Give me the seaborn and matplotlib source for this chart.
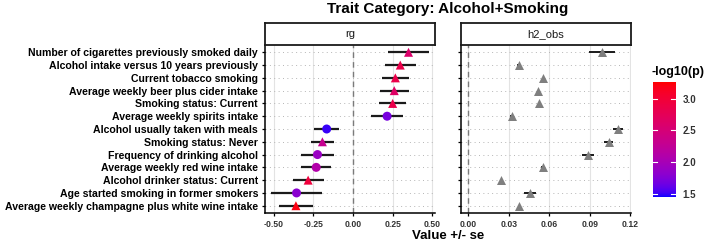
import numpy as np
import pandas as pd
import matplotlib
matplotlib.use("Agg")
import matplotlib.pyplot as plt
import matplotlib.transforms as mtransforms
from matplotlib.colors import ListedColormap, Normalize
from matplotlib.cm import ScalarMappable
import seaborn as sns

# ---------------- data ----------------
traits = [
    "Number of cigarettes previously smoked daily",
    "Alcohol intake versus 10 years previously",
    "Current tobacco smoking",
    "Average weekly beer plus cider intake",
    "Smoking status: Current",
    "Average weekly spirits intake",
    "Alcohol usually taken with meals",
    "Smoking status: Never",
    "Frequency of drinking alcohol",
    "Average weekly red wine intake",
    "Alcohol drinker status: Current",
    "Age started smoking in former smokers",
    "Average weekly champagne plus white wine intake",
]
rg = [0.350, 0.298, 0.267, 0.260, 0.250, 0.215, -0.166, -0.193, -0.224, -0.232, -0.283, -0.356, -0.360]
rg_se = [0.128, 0.098, 0.085, 0.090, 0.083, 0.100, 0.078, 0.072, 0.103, 0.093, 0.098, 0.159, 0.105]
neglog10p = [2.60, 2.85, 2.85, 2.65, 2.85, 1.70, 1.50, 2.30, 1.90, 2.10, 2.95, 1.80, 3.20]
shape = ["tri", "tri", "tri", "tri", "tri", "circ", "circ", "tri", "circ", "circ", "tri", "circ", "tri"]
h2_obs = [0.0990, 0.0374, 0.0556, 0.0516, 0.0524, 0.0322, 0.1114, 0.1040, 0.0888, 0.0553, 0.0241, 0.0457, 0.0376]
h2_se = [0.0098, 0.0010, 0.0010, 0.0010, 0.0010, 0.0010, 0.0037, 0.0033, 0.0043, 0.0015, 0.0010, 0.0045, 0.0010]
rg_ticks = [-0.50, -0.25, 0.00, 0.25, 0.50]
h2_ticks = [0.00, 0.03, 0.06, 0.09, 0.12]
cbar_ticks = [1.5, 2.0, 2.5, 3.0]
title = "Trait Category: Alcohol+Smoking"
panels = ["rg", "h2_obs"]

# ---------------- colour scale (Lab interpolation blue -> red) ----------------
def srgb_to_lab(c):
    c = np.asarray(c, float)
    lin = np.where(c <= 0.04045, c / 12.92, ((c + 0.055) / 1.055) ** 2.4)
    M = np.array([[0.4124, 0.3576, 0.1805], [0.2126, 0.7152, 0.0722], [0.0193, 0.1192, 0.9505]])
    xyz = M @ lin
    wp = np.array([0.95047, 1.0, 1.08883])
    t = xyz / wp
    f = np.where(t > (6 / 29) ** 3, np.cbrt(t), t / (3 * (6 / 29) ** 2) + 4 / 29)
    return np.array([116 * f[1] - 16, 500 * (f[0] - f[1]), 200 * (f[1] - f[2])])

def lab_to_srgb(lab):
    L, a, b = lab
    fy = (L + 16) / 116
    fx = fy + a / 500
    fz = fy - b / 200
    def finv(f):
        return f ** 3 if f > 6 / 29 else 3 * (6 / 29) ** 2 * (f - 4 / 29)
    wp = np.array([0.95047, 1.0, 1.08883])
    xyz = np.array([finv(fx), finv(fy), finv(fz)]) * wp
    Minv = np.array([[3.2406, -1.5372, -0.4986], [-0.9689, 1.8758, 0.0415], [0.0557, -0.2040, 1.0570]])
    lin = np.clip(Minv @ xyz, 0, 1)
    c = np.where(lin <= 0.0031308, 12.92 * lin, 1.055 * lin ** (1 / 2.4) - 0.055)
    return np.clip(c, 0, 1)

lab_lo = srgb_to_lab([0, 0, 1])
lab_hi = srgb_to_lab([1, 0, 0])
cols = [lab_to_srgb(lab_lo + (lab_hi - lab_lo) * t) for t in np.linspace(0, 1, 256)]
cmap = ListedColormap(cols)
vmin, vmax = 1.446, 3.262
norm = Normalize(vmin, vmax)

# ---------------- figure ----------------
plt.rcParams["font.family"] = ["Liberation Sans", "DejaVu Sans"]
W, H = 709, 247
fig = plt.figure(figsize=(W / 100, H / 100), dpi=100)

def rect(x0, y0, x1, y1):
    return [x0 / W, 1 - y1 / H, (x1 - x0) / W, (y1 - y0) / H]

n = len(traits)
ypos = np.arange(n)[::-1]
df = pd.DataFrame({"trait": traits, "y": ypos, "rg": rg, "rg_se": rg_se,
                   "p": neglog10p, "shape": shape, "h2": h2_obs, "h2_se": h2_se})

ax1 = fig.add_axes(rect(265, 45, 435, 213))
ax2 = fig.add_axes(rect(461, 45, 631, 213))

def style_axis(ax, ticks, xlim):
    ax.set_xlim(*xlim)
    ax.set_ylim(-0.57, n - 1 + 0.57)
    for t in ticks:
        ax.axvline(t, color="#e3e3e3", lw=0.8, zorder=0)
    for y in ypos:
        ax.axhline(y, color="#b5b5b5", lw=0.7, ls=(0, (1, 3.5)), zorder=0)
    ax.axvline(0, color="#7a7a7a", lw=1.0, ls=(0, (4, 3)), zorder=1)
    for s in ["top", "right"]:
        ax.spines[s].set_visible(False)
    for s in ["left", "bottom"]:
        ax.spines[s].set_color("black")
        ax.spines[s].set_linewidth(1.1)
    ax.set_xticks(ticks)
    ax.set_xticklabels([f"{t:.2f}" for t in ticks], fontsize=6.2, fontweight="bold", color="#333333")
    ax.set_yticks(ypos)
    ax.tick_params(axis="x", length=2.5, width=0.9, color="black", direction="out", pad=2.5)
    ax.tick_params(axis="y", length=2.5, width=0.9, color="black", direction="out", pad=2.5)
    ax.set_xlabel("")
    ax.set_ylabel("")
    ax.set_facecolor("white")

# rg panel
ax1.hlines(df["y"], df["rg"] - df["rg_se"], df["rg"] + df["rg_se"], color="#1a1a1a", lw=1.6, zorder=2)
sns.scatterplot(data=df, x="rg", y="y", hue="p", palette=cmap, hue_norm=(vmin, vmax),
                style="shape", markers={"tri": "^", "circ": "o"}, s=42, linewidth=0,
                legend=False, ax=ax1, zorder=3)
style_axis(ax1, rg_ticks, (-0.555, 0.517))
ax1.set_yticklabels(df["trait"], fontsize=7.6, fontweight="bold", color="black")

# h2 panel
ax2.hlines(df["y"], df["h2"] - df["h2_se"], df["h2"] + df["h2_se"], color="#1a1a1a", lw=1.4, zorder=2)
sns.scatterplot(data=df, x="h2", y="y", color="#7f7f7f", marker="^", s=42, linewidth=0,
                legend=False, ax=ax2, zorder=3)
style_axis(ax2, h2_ticks, (-0.0055, 0.1207))
ax2.set_yticklabels([])

# strips
for (x0, x1), lab in zip([(265, 435), (461, 631)], panels):
    sax = fig.add_axes(rect(x0, 23, x1, 45))
    sax.set_xticks([]); sax.set_yticks([])
    sax.set_facecolor("white")
    for s in sax.spines.values():
        s.set_color("#1a1a1a"); s.set_linewidth(1.3)
    sax.text(0.5, 0.48, lab, ha="center", va="center", fontsize=8, color="#1a1a1a",
             transform=sax.transAxes)

# colour bar
cax = fig.add_axes(rect(652.5, 82, 675.5, 197))
cb = fig.colorbar(ScalarMappable(norm=norm, cmap=cmap), cax=cax)
cb.outline.set_visible(False)
cb.set_ticks(cbar_ticks)
cb.ax.set_yticklabels([f"{t:.1f}" for t in cbar_ticks], fontsize=7, fontweight="bold", color="#333333")
cb.ax.tick_params(length=0, pad=5)
tr = mtransforms.blended_transform_factory(cax.transAxes, cax.transData)
for t in cbar_ticks:
    cax.plot([0, 0.2], [t, t], color="white", lw=0.8, transform=tr)
    cax.plot([0.8, 1.0], [t, t], color="white", lw=0.8, transform=tr)

fig.text(652 / W, 1 - 72 / H, "-log10(p)", ha="left", va="center", fontsize=9, fontweight="bold")
fig.text(448 / W, 1 - 9 / H, title, ha="center", va="center", fontsize=11, fontweight="bold")
fig.text(448 / W, 1 - 236 / H, "Value +/- se", ha="center", va="center", fontsize=9.5, fontweight="bold")

fig.savefig("out.png", dpi=100, facecolor="white")
